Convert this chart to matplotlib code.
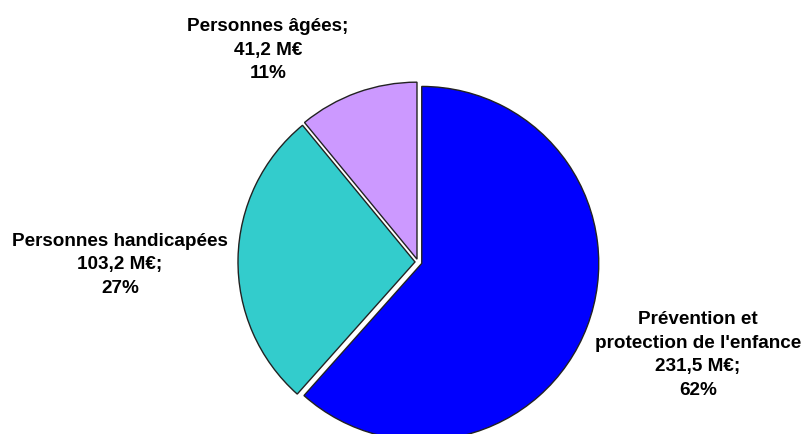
import matplotlib
matplotlib.use("Agg")
import matplotlib.pyplot as plt

# données (M€)
categories = ["Prévention et\nprotection de l'enfance", "Personnes handicapées", "Personnes âgées;"]
values = [231.5, 103.2, 41.2]
value_labels = ["231,5 M€;", "103,2 M€;", "41,2 M€"]
colors = ["#0000FF", "#33CCCC", "#CC99FF"]

total = sum(values)
pcts = [f"{round(v / total * 100)}%" for v in values]

fig = plt.figure(figsize=(8.04, 4.35), dpi=100)
ax = fig.add_axes([0, 0, 1, 1])

ax.pie(values, colors=colors, startangle=90, counterclock=False,
       center=(418, 172), radius=177, explode=[4, 3, 3],
       wedgeprops=dict(edgecolor="#222222", linewidth=1.0))

ax.set_xlim(0, 804)
ax.set_ylim(0, 435)
ax.set_aspect("equal")
ax.axis("off")

# positions des étiquettes (pixels)
label_pos = [(698, 435 - 355), (120, 435 - 265), (268, 435 - 50)]
for (x, y), cat, vl, pc in zip(label_pos, categories, value_labels, pcts):
    ax.text(x, y, f"{cat}\n{vl}\n{pc}", ha="center", va="center",
            fontsize=13.6, fontweight="bold", family="Liberation Sans",
            linespacing=1.5)

fig.savefig("out.png", dpi=100)
